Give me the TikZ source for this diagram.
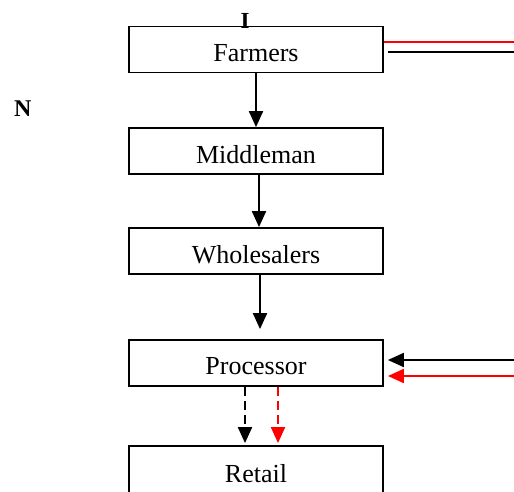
\documentclass[tikz,border=0pt]{standalone}
\usepackage{fontspec}
\setmainfont{Liberation Serif}
\usetikzlibrary{arrows.meta}
\begin{document}
\begin{tikzpicture}[x=1pt,y=-1pt,
  box/.style={draw,line width=1.8pt,minimum width=254pt,minimum height=46pt,inner sep=0pt,
    font=\fontsize{26}{30}\selectfont,text depth=0pt},
  conn/.style={line width=2pt,-{Triangle[length=16pt,width=14pt]}},
  dconn/.style={conn,dash pattern=on 9pt off 5pt},
  rline/.style={line width=1.6pt}]
\useasboundingbox (0,0) rectangle (514,491);
\node[box] (farm) at (256,49.5) {\raisebox{-6pt}{Farmers}};
\node[box] (mid) at (256,151) {\raisebox{-6pt}{Middleman}};
\node[box] (whole) at (256,251) {\raisebox{-6pt}{Wholesalers}};
\node[box] (proc) at (256,363) {\raisebox{-6pt}{Processor}};
\node[box,minimum height=50pt] (ret) at (256,471) {\raisebox{-4pt}{Retail}};
\node[font=\fontsize{23}{24}\selectfont\bfseries,anchor=base,inner sep=0pt] (I) at (245,28) {I};
\node[font=\fontsize{24}{24}\selectfont\bfseries,anchor=base west,inner sep=0pt] (N) at (14,116) {N};
\draw[conn] (farm.south) -- (mid.north);
\draw[conn] ([xshift=3pt]mid.south) -- ([xshift=3pt]whole.north);
\draw[conn] ([xshift=4pt]whole.south) -- ([xshift=4pt,yshift=10pt]proc.north);
\draw[dconn] ([xshift=-11pt]proc.south) -- ([xshift=-11pt,yshift=2pt]ret.north);
\draw[dconn,red] ([xshift=22pt]proc.south) -- ([xshift=22pt,yshift=2pt]ret.north);
\coordinate (fr) at (514,42);
\coordinate (fb) at (514,52);
\draw[rline,red] (farm.east |- fr) -- (fr);
\draw[rline] ([xshift=4pt]farm.east |- fb) -- (fb);
\coordinate (pb) at (514,360);
\coordinate (pr) at (514,376);
\draw[conn] (pb) -- ([xshift=4pt]proc.east |- pb);
\draw[conn,red] (pr) -- ([xshift=4pt]proc.east |- pr);
\end{tikzpicture}
\end{document}
